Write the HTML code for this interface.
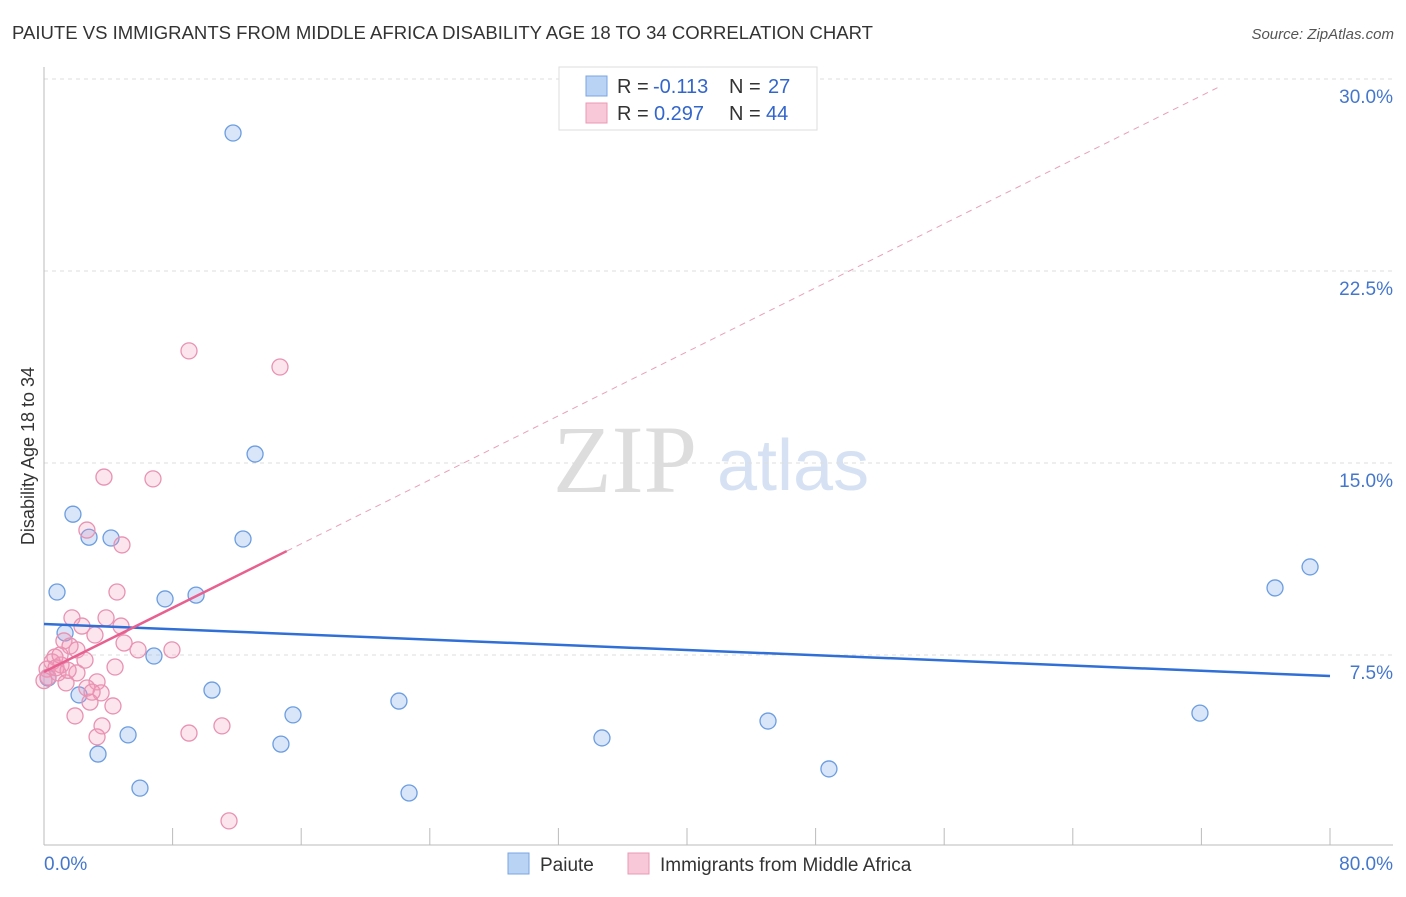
<!DOCTYPE html>
<html><head><meta charset="utf-8"><style>
body{margin:0;background:#fff;font-family:"Liberation Sans",sans-serif}
</style></head><body>
<svg id="chart" width="1406" height="892" xmlns="http://www.w3.org/2000/svg" font-family="Liberation Sans, sans-serif">
<text x="12" y="39" font-size="18" fill="#333" textLength="861" lengthAdjust="spacingAndGlyphs">PAIUTE VS IMMIGRANTS FROM MIDDLE AFRICA DISABILITY AGE 18 TO 34 CORRELATION CHART</text>
<text x="1394" y="39" font-size="15" fill="#555" text-anchor="end" font-style="italic">Source: ZipAtlas.com</text>
<g>
<text x="553" y="492" font-size="96" font-family="Liberation Serif, serif" fill="#ddd">ZIP</text>
<text x="717" y="490" font-size="72" fill="#d6e2f3">atlas</text>
</g>
<g id="grid"></g>
<g id="axes"></g>
<g id="marks"></g>
<text transform="translate(34,456) rotate(-90)" font-size="18" fill="#333" text-anchor="middle">Disability Age 18 to 34</text>
<g font-size="20">
<rect x="559" y="67" width="258" height="63" fill="#fff" stroke="#ddd"/>
<rect x="586" y="76" width="21" height="20" fill="#b9d3f5" stroke="#7ba6e2"/>
<text x="617" y="93" fill="#333">R =</text>
<text x="653" y="93" fill="#3366cc">-0.113</text>
<text x="729" y="93" fill="#333">N =</text>
<text x="768" y="93" fill="#3366cc">27</text>
<rect x="586" y="103" width="21" height="20" fill="#f9c8d8" stroke="#e899b5"/>
<text x="617" y="120" fill="#333">R =</text>
<text x="654" y="120" fill="#3366cc">0.297</text>
<text x="729" y="120" fill="#333">N =</text>
<text x="766" y="120" fill="#3366cc">44</text>
</g>
<g>
<rect x="508" y="853" width="21" height="21" fill="#b9d3f5" stroke="#7ba6e2"/>
<text x="540" y="871" font-size="19" fill="#333">Paiute</text>
<rect x="628" y="853" width="21" height="21" fill="#f9c8d8" stroke="#e899b5"/>
<text x="660" y="871" font-size="19" fill="#333">Immigrants from Middle Africa</text>
</g>
</svg>
<script>
const yTicks=[7.5,15,22.5,30];
const yTickLabels=["7.5%","15.0%","22.5%","30.0%"];
const xTicks=[0,8,16,24,32,40,48,56,64,72,80];
const xEndLabels=["0.0%","80.0%"];
const paiuteX=[11.76,13.13,1.80,2.80,4.17,12.38,0.81,7.53,9.46,1.31,6.84,2.18,10.45,15.49,22.08,5.23,3.36,14.74,5.97,22.71,34.71,45.04,48.83,71.91,76.58,78.76,0.25];
const paiuteY=[27.89,15.35,13.0,12.1,12.07,12.03,9.96,9.69,9.84,8.36,7.46,5.94,6.13,5.16,5.70,4.38,3.63,4.02,2.30,2.11,4.26,4.92,3.05,5.23,10.12,10.94,6.6];
const immX=[9.02,14.68,3.73,6.78,2.67,4.85,4.54,1.74,3.86,2.36,4.79,3.17,1.24,1.62,4.98,2.05,5.85,7.96,0.68,2.55,0.5,1.06,4.42,0.19,2.05,0.87,0.25,1.37,3.3,2.67,3.55,2.99,2.86,4.29,1.93,3.61,11.07,9.02,3.30,11.51,0.75,0.0,1.5,1.0];
const immY=[19.38,18.75,14.45,14.38,12.38,11.8,9.96,8.95,8.95,8.63,8.63,8.28,8.05,7.85,7.97,7.70,7.70,7.70,7.42,7.30,7.23,7.11,7.03,6.95,6.80,6.80,6.64,6.41,6.45,6.21,6.02,6.05,5.66,5.51,5.12,4.73,4.73,4.45,4.30,1.02,7.0,6.5,6.9,7.5];
const paiuteTrend=[[0,8.71],[80,6.68]];
const immTrend=[[0,6.84],[15.1,11.56]];
const immTrendExt=[[15.1,11.56],[73,29.66]];
const NS="http://www.w3.org/2000/svg";
const X=v=>44+v*16.075, Y=v=>847-v*25.6;
function mk(p,tag,a){const e=document.createElementNS(NS,tag);for(const k in a)e.setAttribute(k,a[k]);document.getElementById(p).appendChild(e);return e;}
yTicks.forEach((t,i)=>{
 const g=mk('grid','line',{x1:44,x2:1393,y1:Y(t),y2:Y(t),stroke:'#ddd','stroke-dasharray':'4,4'});
 
 
 const l=mk('grid','text',{x:1393,y:Y(t)+24,'font-size':19,fill:'#4477cc','text-anchor':'end'});l.textContent=yTickLabels[i];
 
 
});
const ax=mk('axes','line',{x1:44,x2:44,y1:67,y2:845,stroke:'#bbb'});


const bx=mk('axes','line',{x1:44,x2:1393,y1:845,y2:845,stroke:'#bbb'});


xTicks.forEach(t=>{const k=mk('axes','line',{x1:X(t),x2:X(t),y1:828,y2:845,stroke:'#bbb'});
 
 });
[[0,'start'],[80,'end']].forEach(([v,a],i)=>{const t=mk('axes','text',{x:i?1393:44,y:870,'font-size':19,fill:'#4477cc','text-anchor':a});t.textContent=xEndLabels[i];
 
 });
paiuteX.forEach((v,i)=>{const c=mk('marks','circle',{cx:X(v),cy:Y(paiuteY[i]),r:8,fill:'rgba(130,170,235,0.3)',stroke:'#6b9de0','stroke-width':1.3});
 
 });
immX.forEach((v,i)=>{const c=mk('marks','circle',{cx:X(v),cy:Y(immY[i]),r:8,fill:'rgba(245,150,185,0.25)',stroke:'#e892b2','stroke-width':1.3});
 
 });
const t1=mk('marks','line',{x1:X(paiuteTrend[0][0]),y1:Y(paiuteTrend[0][1]),x2:X(paiuteTrend[1][0]),y2:Y(paiuteTrend[1][1]),stroke:'#2f6fd6','stroke-width':2.5});


const t2=mk('marks','line',{x1:X(immTrend[0][0]),y1:Y(immTrend[0][1]),x2:X(immTrend[1][0]),y2:Y(immTrend[1][1]),stroke:'#e8608f','stroke-width':2.5});


const t3=mk('marks','line',{x1:X(immTrendExt[0][0]),y1:Y(immTrendExt[0][1]),x2:X(immTrendExt[1][0]),y2:Y(immTrendExt[1][1]),stroke:'#e8a0b8','stroke-width':1,'stroke-dasharray':'6,5'});


</script>
</body></html>
